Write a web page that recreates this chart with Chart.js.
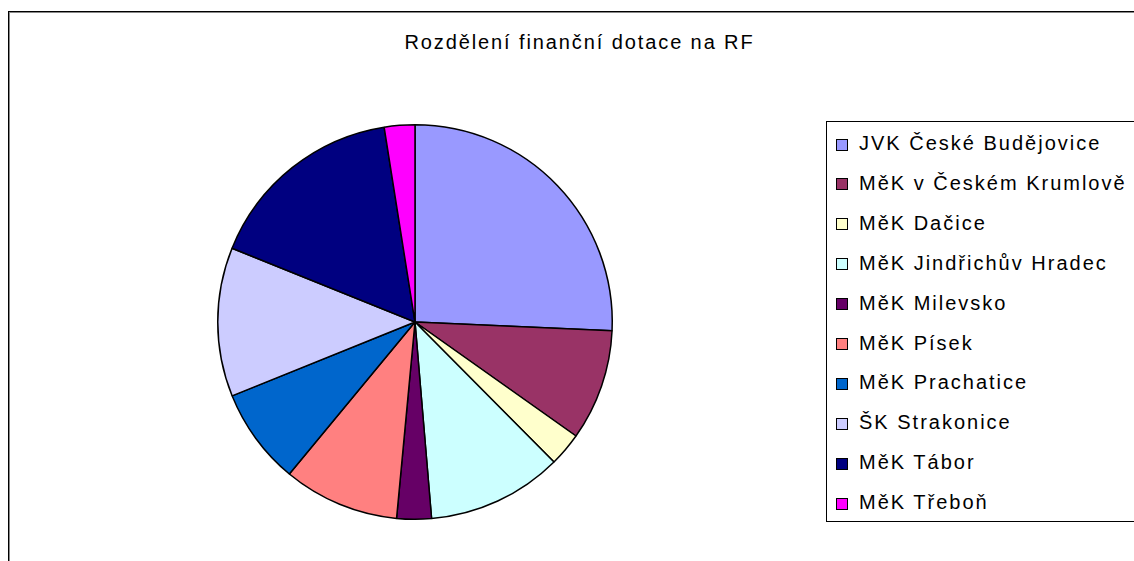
<!DOCTYPE html>
<html>
<head>
<meta charset="utf-8">
<script src="https://cdn.jsdelivr.net/npm/chart.js@4"></script>
<style>
  html, body { margin: 0; padding: 0; background: #fff; width: 1134px; height: 561px; overflow: hidden; }
  body { position: relative; font-family: "Liberation Sans", Arial, sans-serif; }
  #frame { position: absolute; left: 8px; top: 11px; width: 1200px; height: 600px;
           border-left: 1px solid #000; border-top: 1px solid #000;
           box-shadow: inset 1px 1px 0 #888; }
  #title { position: absolute; left: 0; top: 32px; width: 1159px; text-align: center;
           font-size: 20px; line-height: 20px; letter-spacing: 1.9px; color: #000; white-space: nowrap; }
  #pieWrap { position: absolute; left: 215px; top: 122px; width: 400px; height: 400px; }
  #legend { position: absolute; left: 826px; top: 121px; width: 400px; height: 399px;
            border: 1px solid #000; background: #fff; }
  .item { position: absolute; left: 0; height: 20px; line-height: 20px; font-size: 20px;
          letter-spacing: 2.0px; white-space: nowrap; color: #000; }
  .sw { position: absolute; left: 9px; top: 5.5px; width: 10px; height: 10px; border: 1px solid #000; }
  .txt { position: absolute; left: 32px; top: 0; }
</style>
</head>
<body>
<div id="frame"></div>
<div id="title">Rozdělení finanční dotace na RF</div>
<div id="pieWrap"><canvas id="c" width="400" height="400"></canvas></div>
<div id="legend"></div>
<script>
const titleText = "Rozdělení finanční dotace na RF";
const categories = [
  "JVK České Budějovice",
  "MěK v Českém Krumlově",
  "MěK Dačice",
  "MěK Jindřichův Hradec",
  "MěK Milevsko",
  "MěK Písek",
  "MěK Prachatice",
  "ŠK Strakonice",
  "MěK Tábor",
  "MěK Třeboň"
];
const shares = [25.7, 9.1, 2.75, 11.1, 2.83, 9.5, 7.9, 12.2, 16.4, 2.5];
const colors = ["#9999FF", "#993366", "#FFFFCC", "#CCFFFF", "#660066",
                "#FF8080", "#0066CC", "#CCCCFF", "#000080", "#FF00FF"];

document.getElementById('title').textContent = titleText;

const legend = document.getElementById('legend');
categories.forEach((name, i) => {
  const row = document.createElement('div');
  row.className = 'item';
  row.style.top = (11 + i * 39.9) + 'px';
  const sw = document.createElement('div');
  sw.className = 'sw';
  sw.style.background = colors[i];
  const t = document.createElement('span');
  t.className = 'txt';
  t.textContent = name;
  row.appendChild(sw);
  row.appendChild(t);
  legend.appendChild(row);
});

new Chart(document.getElementById('c'), {
  type: 'pie',
  data: {
    labels: categories,
    datasets: [{
      data: shares,
      backgroundColor: colors,
      borderColor: '#000',
      borderWidth: 1.5
    }]
  },
  options: {
    responsive: false,
    animation: false,
    layout: { padding: 2 },
    plugins: { legend: { display: false }, tooltip: { enabled: false }, title: { display: false } }
  }
});
</script>
</body>
</html>
